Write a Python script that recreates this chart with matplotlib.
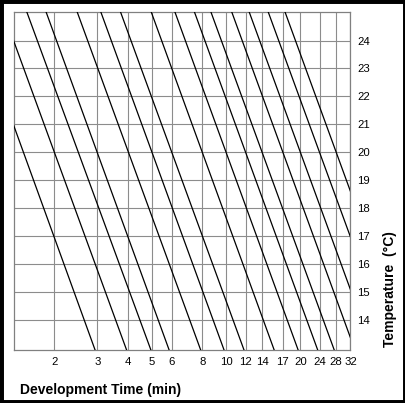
import matplotlib
matplotlib.use('Agg')
import matplotlib.pyplot as plt
from matplotlib.patches import Rectangle
from matplotlib.ticker import FixedLocator, FixedFormatter, NullLocator

plt.rcParams['font.family'] = ['Liberation Sans', 'DejaVu Sans']

# each line read at two temperatures (beyond the visible range, clipped by the axes)
line_temps = [12, 26]
time_at_12 = [3.2, 4.3, 5.4, 6.4, 8.6, 10.7, 12.9, 17.1, 21.4, 25.7, 30.0, 36.4, 42.9, 51.4, 60.0]
time_at_26 = [0.85, 1.13, 1.41, 1.69, 2.26, 2.82, 3.39, 4.52, 5.64, 6.77, 7.90, 9.60, 11.3, 13.5, 15.8]

x_ticks = [2, 3, 4, 5, 6, 8, 10, 12, 14, 17, 20, 24, 28, 32]
y_ticks = [14, 15, 16, 17, 18, 19, 20, 21, 22, 23, 24]

fig = plt.figure(figsize=(4.06, 4.03), dpi=100)
ax = fig.add_axes([14.5/406, 1-349.7/403, 336/406, 338.2/403])

for t12, t26 in zip(time_at_12, time_at_26):
    ax.plot([t12, t26], line_temps, color='black', lw=0.9, zorder=3)

ax.set_xscale('log')
ax.set_xlim(1.38, 32)
ax.set_ylim(12.93, 25.04)

ax.xaxis.set_major_locator(FixedLocator(x_ticks))
ax.xaxis.set_major_formatter(FixedFormatter([str(v) for v in x_ticks]))
ax.xaxis.set_minor_locator(NullLocator())
ax.set_yticks(y_ticks)
ax.yaxis.tick_right()
ax.tick_params(axis='both', length=0, labelsize=8.2, pad=5)

ax.grid(True, color='#8c8c8c', lw=0.8)
for s in ax.spines.values():
    s.set_color('#808080')
    s.set_linewidth(0.9)

fig.text(20/406, 1-394/403, 'Development Time (min)', fontsize=10, fontweight='bold',
         ha='left', va='baseline')
fig.text(390/406, 1-347/403, 'Temperature  (\u00b0C)', fontsize=10, fontweight='bold',
         rotation=90, ha='center', va='bottom')

fig.patches.append(Rectangle((0, 0), 1, 1, transform=fig.transFigure, fill=False,
                             ec='black', lw=5, zorder=10))

fig.savefig('out.png', dpi=100)
